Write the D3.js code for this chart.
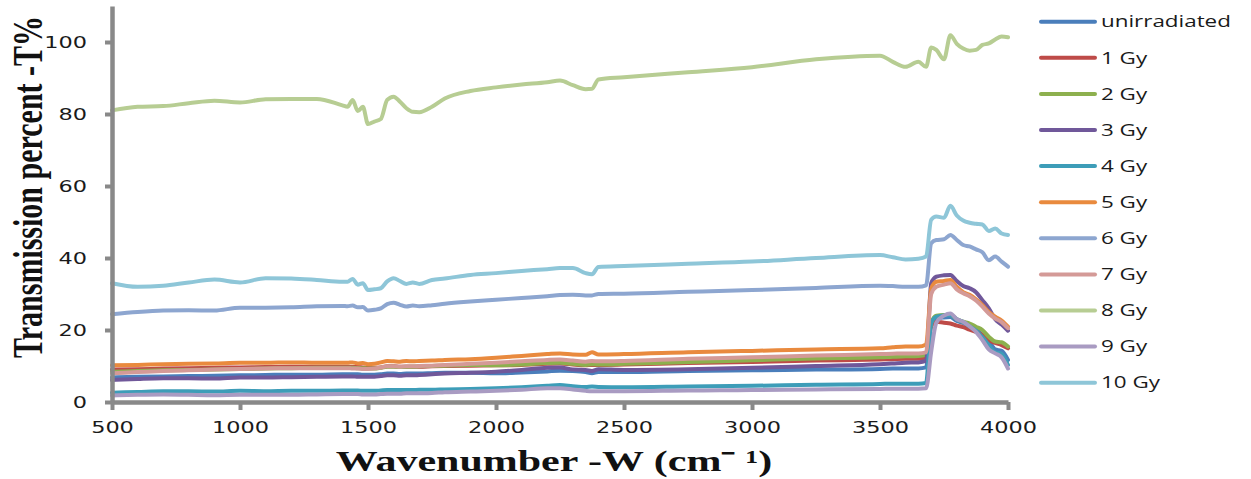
<!DOCTYPE html>
<html>
<head>
<meta charset="utf-8">
<script src="https://cdn.jsdelivr.net/npm/d3@7"></script>
<style>
  body { margin: 0; background: #fff; }
  svg { display: block; }
</style>
</head>
<body>
<svg id="chart" width="1251" height="479"></svg>
<script>
// FTIR transmission spectra at increasing gamma doses
const wavenumbers = [500, 600, 700, 800, 900, 1000, 1100, 1200, 1300, 1400, 1420, 1440, 1460, 1480, 1500, 1525, 1550, 1575,
  1600, 1625, 1650, 1675, 1700, 1750, 1800, 1900, 2000, 2100, 2200, 2250, 2300, 2350, 2375,
  2400, 2500, 2750, 3000, 3250, 3500, 3550, 3600, 3650, 3680, 3700, 3720, 3750, 3775, 3800,
  3825, 3850, 3875, 3900, 3925, 3950, 3975, 4000];

const unirradiated = [6.8, 7.0, 7.1, 7.2, 7.3, 7.4, 7.5, 7.6, 7.6, 7.7, 7.7, 7.7, 7.7, 7.6, 7.6, 7.6, 7.7, 7.9,
  7.9, 7.8, 7.9, 7.9, 7.9, 8.0, 8.1, 8.1, 8.0, 8.2, 8.5, 8.7, 8.6, 8.3, 8.0,
  8.3, 8.3, 8.6, 8.8, 9.0, 9.2, 9.3, 9.3, 9.3, 9.6, 21.5, 23.2, 23.5, 23.6, 22.5,
  22.0, 21.0, 20.2, 18.6, 17.0, 14.6, 14.2, 11.7];
const gy1 = [9.0, 9.1, 9.3, 9.4, 9.5, 9.6, 9.7, 9.8, 9.8, 9.8, 9.8, 9.7, 9.7, 9.6, 9.5, 9.5, 9.6, 9.9,
  9.9, 9.8, 9.8, 9.8, 9.8, 9.9, 10.0, 10.1, 10.2, 10.3, 10.6, 10.7, 10.4, 10.2, 10.3,
  10.3, 10.4, 10.8, 11.1, 11.5, 11.8, 11.9, 12.0, 12.0, 12.3, 21.0, 22.3, 22.0, 21.8, 21.2,
  20.8, 20.1, 19.5, 18.6, 17.2, 16.4, 15.8, 14.9];
const gy2 = [8.4, 8.6, 8.8, 8.9, 9.0, 9.2, 9.3, 9.4, 9.5, 9.5, 9.5, 9.5, 9.4, 9.4, 9.3, 9.3, 9.5, 9.8,
  9.8, 9.7, 9.8, 9.8, 9.9, 10.0, 10.1, 10.3, 10.2, 10.4, 10.8, 10.9, 10.6, 10.3, 10.5,
  10.4, 10.6, 11.1, 11.6, 12.1, 12.4, 12.6, 12.7, 12.8, 13.1, 22.0, 24.0, 24.2, 24.2, 23.0,
  22.3, 21.8, 20.9, 20.0, 18.1, 16.8, 16.6, 15.4];
const gy3 = [6.1, 6.4, 6.6, 6.6, 6.5, 6.8, 6.8, 6.9, 7.0, 7.1, 7.1, 7.1, 7.0, 7.0, 7.0, 7.0, 7.2, 7.4,
  7.4, 7.3, 7.4, 7.4, 7.5, 7.7, 7.9, 8.1, 8.4, 8.9, 9.5, 9.6, 9.0, 8.9, 8.6,
  9.1, 8.9, 9.1, 9.5, 10.0, 10.5, 10.7, 10.9, 11.0, 11.4, 33.0, 34.8, 35.2, 35.3, 33.6,
  32.2, 31.6, 30.5, 28.3, 26.0, 23.0, 21.5, 19.8];
const gy4 = [2.6, 2.8, 3.0, 3.0, 2.9, 3.1, 3.0, 3.1, 3.1, 3.2, 3.2, 3.2, 3.2, 3.1, 3.1, 3.1, 3.2, 3.3,
  3.3, 3.3, 3.3, 3.3, 3.4, 3.4, 3.5, 3.6, 3.8, 4.1, 4.5, 4.7, 4.4, 4.2, 4.3,
  4.2, 4.1, 4.3, 4.5, 4.8, 5.0, 5.1, 5.1, 5.1, 5.3, 21.8, 23.7, 24.0, 24.2, 23.0,
  22.2, 21.0, 19.8, 18.0, 15.8, 13.8, 13.4, 10.3];
const gy5 = [10.2, 10.3, 10.5, 10.6, 10.7, 10.9, 10.9, 11.0, 10.9, 10.9, 10.9, 11.0, 10.7, 10.8, 10.5, 10.6, 11.0, 11.4,
  11.3, 11.2, 11.4, 11.3, 11.4, 11.5, 11.7, 11.9, 12.3, 12.8, 13.3, 13.5, 13.2, 13.1, 13.8,
  13.2, 13.3, 13.8, 14.2, 14.6, 14.9, 15.2, 15.4, 15.4, 16.0, 31.5, 33.4, 33.6, 33.9, 32.0,
  30.5, 29.8, 28.5, 26.9, 25.0, 23.7, 22.6, 20.9];
const gy6 = [24.4, 25.0, 25.4, 25.5, 25.4, 26.2, 26.2, 26.3, 26.6, 26.7, 26.6, 26.8, 26.3, 26.4, 25.4, 25.6, 26.0, 27.2,
  27.6, 27.0, 26.5, 26.8, 26.6, 26.9, 27.3, 27.9, 28.4, 28.9, 29.4, 29.7, 29.8, 29.6, 29.6,
  30.0, 30.1, 30.6, 31.1, 31.7, 32.3, 32.2, 32.0, 32.0, 32.4, 44.1, 45.0, 45.2, 46.4, 45.0,
  43.6, 43.2, 42.4, 41.6, 39.4, 40.4, 39.0, 37.6];
const gy7 = [8.0, 8.3, 8.6, 8.8, 9.0, 9.2, 9.3, 9.4, 9.4, 9.4, 9.4, 9.3, 9.3, 9.2, 9.2, 9.3, 9.6, 9.9,
  9.9, 9.8, 9.9, 9.9, 10.0, 10.1, 10.3, 10.6, 10.9, 11.3, 11.7, 11.8, 11.5, 11.2, 11.4,
  11.3, 11.4, 12.0, 12.4, 12.9, 13.3, 13.4, 13.5, 13.5, 13.8, 30.0, 32.0, 32.6, 33.0, 31.3,
  30.2, 29.4, 28.2, 26.5, 24.6, 23.2, 22.2, 20.5];
const gy8 = [81.0, 82.0, 82.2, 83.0, 83.7, 83.2, 84.1, 84.2, 84.2, 82.4, 82.0, 83.9, 80.8, 82.0, 77.2, 77.9, 78.6, 83.9,
  84.8, 83.4, 81.6, 80.6, 80.5, 82.0, 84.3, 86.4, 87.4, 88.2, 88.8, 89.3, 88.0, 86.9, 87.0,
  89.6, 90.2, 91.6, 93.0, 95.2, 96.2, 94.5, 93.1, 94.5, 93.1, 98.5, 97.8, 95.2, 101.9, 99.5,
  98.2, 97.6, 97.8, 99.2, 99.6, 100.7, 101.5, 101.3];
const gy9 = [1.8, 2.0, 2.1, 2.0, 1.9, 2.0, 2.0, 2.0, 2.1, 2.2, 2.2, 2.2, 2.2, 2.1, 2.1, 2.1, 2.2, 2.3,
  2.3, 2.3, 2.4, 2.4, 2.4, 2.5, 2.7, 2.9, 3.1, 3.4, 3.8, 3.8, 3.5, 3.1, 3.0,
  3.0, 3.0, 3.2, 3.3, 3.5, 3.6, 3.7, 3.7, 3.7, 3.8, 14.0, 22.0, 24.0, 24.6, 23.0,
  22.3, 21.0, 19.5, 17.2, 14.6, 13.5, 12.4, 9.3];
const gy10 = [33.0, 32.0, 32.3, 33.2, 34.0, 33.2, 34.4, 34.3, 33.9, 33.4, 33.4, 34.2, 32.6, 33.0, 31.1, 31.3, 31.6, 33.5,
  34.4, 33.6, 32.8, 33.2, 32.8, 33.9, 34.3, 35.3, 35.8, 36.4, 36.9, 37.2, 37.2, 35.8, 35.5,
  37.5, 37.8, 38.4, 39.0, 40.0, 40.8, 40.2, 39.6, 39.8, 40.4, 50.6, 51.5, 51.2, 54.5, 51.8,
  50.4, 49.8, 49.5, 49.3, 47.5, 48.2, 46.8, 46.4];

const seriesNames = ["unirradiated", "1 Gy", "2 Gy", "3 Gy", "4 Gy", "5 Gy", "6 Gy", "7 Gy", "8 Gy", "9 Gy", "10 Gy"];
const seriesValues = [unirradiated, gy1, gy2, gy3, gy4, gy5, gy6, gy7, gy8, gy9, gy10];
const seriesColors = ["#4A7EBB", "#BE4B48", "#8DB04E", "#70589A", "#3D9DB8", "#E98A3E",
  "#8DA6D0", "#D49A97", "#B7CD93", "#A99BC2", "#8EC6D8"];

const xTicks = [500, 1000, 1500, 2000, 2500, 3000, 3500, 4000];
const yTicks = [0, 20, 40, 60, 80, 100];
const xTitle = "Wavenumber -W (cm\u207B \u00B9)";
const yTitle = "Transmission percent -T%";

// horizontal text stretch used throughout the figure
const SX = 1.4;
const axisGrey = "#898989";

const svg = d3.select("#chart");

const x = d3.scaleLinear().domain([500, 4000]).range([112, 1008]);
const y = d3.scaleLinear().domain([0, 110]).range([402, 6]);

// data lines
const line = d3.line()
  .x((d, i) => x(wavenumbers[i]))
  .y(d => y(d))
  .curve(d3.curveMonotoneX);

svg.append("g").attr("class", "series")
  .selectAll("path")
  .data(seriesValues)
  .join("path")
  .attr("d", d => line(d))
  .attr("fill", "none")
  .attr("stroke", (d, i) => seriesColors[i])
  .attr("stroke-width", 4)
  .attr("stroke-linejoin", "round")
  .attr("stroke-linecap", "round");

// axes
const xAxis = d3.axisBottom(x).tickValues(xTicks).tickSize(8).tickSizeOuter(0).tickFormat(d3.format("d"));
const yAxis = d3.axisLeft(y).tickValues(yTicks).tickSize(7).tickSizeOuter(0).tickFormat(d3.format("d"));

const gx = svg.append("g").attr("transform", "translate(0,402)").call(xAxis);
const gy = svg.append("g").attr("transform", "translate(112,0)").call(yAxis);

[gx, gy].forEach(g => {
  g.select(".domain").attr("stroke", axisGrey).attr("stroke-width", 4.5);
  g.selectAll(".tick line").attr("stroke", axisGrey).attr("stroke-width", 4);
  g.selectAll(".tick text")
    .attr("fill", "#1a1a1a")
    .attr("font-family", "DejaVu Sans, Verdana, sans-serif")
    .attr("font-size", 16);
});
gx.selectAll(".tick text")
  .attr("y", 31).attr("dy", 0)
  .attr("transform", `scale(${SX},1)`);
gy.selectAll(".tick text")
  .attr("x", -25 / SX).attr("dy", "0.36em")
  .attr("transform", `scale(${SX},1)`);

// axis titles
svg.append("text")
  .attr("transform", `translate(554,471) scale(${SX},1)`)
  .attr("text-anchor", "middle")
  .attr("font-family", "Liberation Serif, Times New Roman, serif")
  .attr("font-weight", "bold")
  .attr("font-size", 30)
  .attr("fill", "#111")
  .text(xTitle);

svg.append("text")
  .attr("transform", `translate(42,187) scale(${SX},1) rotate(-90)`)
  .attr("text-anchor", "middle")
  .attr("font-family", "Liberation Serif, Times New Roman, serif")
  .attr("font-weight", "bold")
  .attr("font-size", 30)
  .attr("fill", "#111")
  .text(yTitle);

// legend
const legend = svg.append("g").attr("class", "legend");
const rows = legend.selectAll("g")
  .data(seriesNames)
  .join("g")
  .attr("transform", (d, i) => `translate(0,${21.7 + i * 36.1})`);
rows.append("line")
  .attr("x1", 1041).attr("x2", 1095)
  .attr("stroke", (d, i) => seriesColors[i])
  .attr("stroke-width", 4)
  .attr("stroke-linecap", "round");
rows.append("text")
  .attr("transform", `translate(1101,0) scale(${SX},1)`)
  .attr("dy", "0.36em")
  .attr("font-family", "Open Sans, sans-serif")
  .attr("font-size", 16)
  .attr("fill", "#1a1a1a")
  .text(d => d);
</script>
</body>
</html>
